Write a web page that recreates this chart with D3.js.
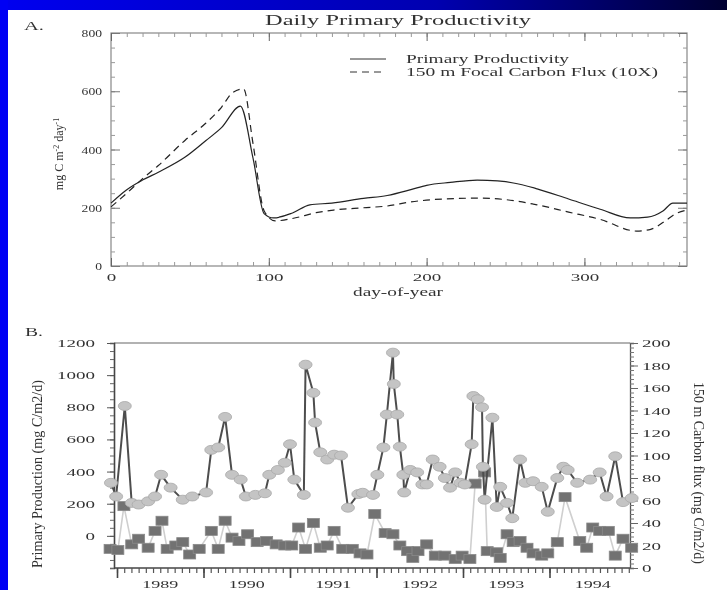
<!DOCTYPE html>
<html>
<head>
<meta charset="utf-8">
<script src="https://cdn.jsdelivr.net/npm/d3@7"></script>
<style>
  body { margin: 0; padding: 0; background: #fff; }
  svg { display: block; }
  text { font-family: "Liberation Serif", "DejaVu Serif", serif; fill: #333; }
</style>
</head>
<body>
<svg id="chart" width="727" height="590"></svg>
<script>
// ---- panel A : daily climatology (day-of-year) ----
var ppDays   = [0, 10, 20, 30, 47, 60, 70, 82, 90, 97, 103, 115, 126, 140, 160, 175, 190, 200, 215, 232, 245, 255, 270, 290, 310, 329, 340, 350, 356, 365];
var ppDaily  = [216, 262, 295, 322, 374, 430, 475, 549, 370, 180, 165, 182, 210, 216, 232, 242, 262, 277, 287, 295, 292, 285, 265, 230, 195, 165, 168, 190, 216, 216];
var fluxDays = [0, 10, 20, 30, 47, 60, 70, 77, 84, 90, 97, 104, 115, 130, 141, 160, 175, 190, 210, 232, 250, 270, 290, 310, 333, 342, 350, 358, 365];
var fluxDaily= [203, 250, 300, 345, 432, 490, 545, 595, 608, 420, 190, 155, 163, 183, 192, 200, 206, 220, 230, 233, 228, 210, 185, 160, 120, 126, 150, 180, 192];
var dayTicks = [0, 100, 200, 300];
var ppTicksA = [0, 200, 400, 600, 800];
var legendA  = ["Primary Productivity", "150 m Focal Carbon Flux (10X)"];

// ---- panel B : BATS time series ----
var ppYears = [1988.93, 1988.99, 1989.09, 1989.17, 1989.25, 1989.36, 1989.44, 1989.51, 1989.62, 1989.76,
  1989.87, 1990.03, 1990.09, 1990.17, 1990.25, 1990.33, 1990.43, 1990.49, 1990.60, 1990.71,
  1990.76, 1990.86, 1990.94, 1991.00, 1991.05, 1991.16, 1991.18, 1991.27, 1991.29, 1991.35,
  1991.43, 1991.51, 1991.59, 1991.67, 1991.79, 1991.84, 1991.96, 1992.01, 1992.08, 1992.12,
  1992.19, 1992.20, 1992.24, 1992.27, 1992.31, 1992.32, 1992.39, 1992.47, 1992.53, 1992.58,
  1992.65, 1992.73, 1992.79, 1992.85, 1992.91, 1992.97, 1993.02, 1993.10, 1993.12, 1993.17,
  1993.22, 1993.23, 1993.25, 1993.34, 1993.39, 1993.43, 1993.51, 1993.57, 1993.66, 1993.72,
  1993.81, 1993.91, 1993.98, 1994.09, 1994.16, 1994.21, 1994.32, 1994.47, 1994.58, 1994.66,
  1994.76, 1994.85, 1994.95];
var ppValues = [330, 245, 808, 205, 195, 215, 245, 380, 300, 225,
  245, 270, 535, 550, 740, 380, 350, 245, 255, 265,
  380, 410, 455, 570, 350, 255, 1065, 890, 705, 520,
  475, 505, 500, 175, 260, 268, 255, 380, 550, 755,
  1140, 945, 755, 555, 380, 270, 410, 395, 320, 320,
  475, 430, 360, 300, 395, 330, 320, 570, 870, 850,
  800, 430, 225, 735, 180, 305, 205, 110, 475, 330,
  340, 305, 150, 360, 430, 410, 330, 350, 395, 245,
  495, 210, 235];
var fluxYears = [1988.92, 1989.01, 1989.08, 1989.17, 1989.25, 1989.36, 1989.44, 1989.52, 1989.58, 1989.68,
  1989.76, 1989.84, 1989.95, 1990.09, 1990.17, 1990.25, 1990.33, 1990.41, 1990.51, 1990.62,
  1990.73, 1990.84, 1990.94, 1991.02, 1991.10, 1991.18, 1991.27, 1991.35, 1991.43, 1991.51,
  1991.61, 1991.72, 1991.81, 1991.89, 1991.98, 1992.10, 1992.19, 1992.27, 1992.36, 1992.42,
  1992.48, 1992.58, 1992.68, 1992.79, 1992.91, 1992.99, 1993.08, 1993.14, 1993.25, 1993.28,
  1993.39, 1993.43, 1993.51, 1993.58, 1993.66, 1993.74, 1993.81, 1993.91, 1993.98, 1994.09,
  1994.18, 1994.35, 1994.43, 1994.50, 1994.58, 1994.68, 1994.76, 1994.85, 1994.95];
var fluxValues = [17, 16, 55, 21, 26, 18, 33, 42, 17, 20,
  23, 12, 17, 33, 17, 42, 27, 24, 30, 23,
  24, 21, 20, 20, 36, 17, 40, 18, 20, 33,
  17, 17, 13, 12, 48, 31, 30, 20, 15, 9,
  15, 21, 11, 11, 8, 11, 8, 75, 85, 15,
  14, 9, 30, 23, 24, 18, 13, 11, 13, 23,
  63, 24, 18, 36, 33, 33, 11, 26, 18];
var yearLabels = [1989, 1990, 1991, 1992, 1993, 1994];
var ppTicksB   = [0, 200, 400, 600, 800, 1000, 1200];
var fluxTicksB = [0, 20, 40, 60, 80, 100, 120, 140, 160, 180, 200];

var svg = d3.select("#chart");

// slide background: blue strips
var defs = svg.append("defs");
var grad = defs.append("linearGradient").attr("id", "topbar");
grad.append("stop").attr("offset", "0%").attr("stop-color", "#0000f0");
grad.append("stop").attr("offset", "60%").attr("stop-color", "#0000b0");
grad.append("stop").attr("offset", "100%").attr("stop-color", "#000030");
defs.append("filter").attr("id", "soft")
    .append("feGaussianBlur").attr("stdDeviation", 0.45);

svg.append("rect").attr("x", 0).attr("y", 0).attr("width", 727).attr("height", 590).attr("fill", "#fff");
svg.append("rect").attr("x", 0).attr("y", 0).attr("width", 727).attr("height", 10).attr("fill", "url(#topbar)");
svg.append("rect").attr("x", 0).attr("y", 0).attr("width", 8).attr("height", 590).attr("fill", "#0000f4");

var g = svg.append("g").attr("filter", "url(#soft)");

function stretch(sel, perChar) {
    sel.attr("textLength", function() { return this.textContent.length * perChar; })
       .attr("lengthAdjust", "spacingAndGlyphs");
}

// =================== PANEL A ===================
var xA = d3.scaleLinear().domain([0, 365]).range([111, 687]);
var yA = d3.scaleLinear().domain([0, 800]).range([266, 33]);

var gA = g.append("g");
gA.append("rect").attr("x", xA(0)).attr("y", yA(800))
    .attr("width", xA(365) - xA(0)).attr("height", yA(0) - yA(800))
    .attr("fill", "none").attr("stroke", "#888").attr("stroke-width", 1.2);

function styleAxis(sel, col) {
    sel.select(".domain").remove();
    sel.selectAll("line").attr("stroke", col).attr("stroke-width", 1);
    sel.selectAll("text").style("font-family", "Liberation Serif, serif").attr("fill", "#333");
}

// minor ticks, inward on all four sides
gA.append("g").attr("transform", "translate(" + xA(0) + ",0)")
    .call(d3.axisLeft(yA).tickValues(d3.range(0, 801, 50)).tickSize(-4).tickFormat(""))
    .call(styleAxis, "#999");
gA.append("g").attr("transform", "translate(" + xA(365) + ",0)")
    .call(d3.axisRight(yA).tickValues(d3.range(0, 801, 50)).tickSize(-4).tickFormat(""))
    .call(styleAxis, "#999");
gA.append("g").attr("transform", "translate(0," + yA(0) + ")")
    .call(d3.axisBottom(xA).tickValues(d3.range(0, 361, 10)).tickSize(-4).tickFormat(""))
    .call(styleAxis, "#999");
gA.append("g").attr("transform", "translate(0," + yA(800) + ")")
    .call(d3.axisTop(xA).tickValues(d3.range(0, 361, 10)).tickSize(-4).tickFormat(""))
    .call(styleAxis, "#999");

// major ticks with labels
var axAL = gA.append("g").attr("transform", "translate(" + xA(0) + ",0)")
    .call(d3.axisLeft(yA).tickValues(ppTicksA).tickSize(-9).tickPadding(9).tickFormat(d3.format("d")))
    .call(styleAxis, "#777");
axAL.selectAll("text").attr("font-size", 11).call(stretch, 6.8);
gA.append("g").attr("transform", "translate(" + xA(365) + ",0)")
    .call(d3.axisRight(yA).tickValues(ppTicksA).tickSize(-9).tickFormat(""))
    .call(styleAxis, "#777");
var axAB = gA.append("g").attr("transform", "translate(0," + yA(0) + ")")
    .call(d3.axisBottom(xA).tickValues(dayTicks).tickSize(-8).tickPadding(7).tickFormat(d3.format("d")))
    .call(styleAxis, "#666");
axAB.selectAll("text").attr("font-size", 11).call(stretch, 9.5);
gA.append("g").attr("transform", "translate(0," + yA(800) + ")")
    .call(d3.axisTop(xA).tickValues(dayTicks).tickSize(-8).tickFormat(""))
    .call(styleAxis, "#666");

var lineA = d3.line().curve(d3.curveMonotoneX);
gA.append("path")
    .attr("d", lineA(ppDays.map(function(d, i) { return [xA(d), yA(ppDaily[i])]; })))
    .attr("fill", "none").attr("stroke", "#222").attr("stroke-width", 1.2);
gA.append("path")
    .attr("d", lineA(fluxDays.map(function(d, i) { return [xA(d), yA(fluxDaily[i])]; })))
    .attr("fill", "none").attr("stroke", "#222").attr("stroke-width", 1.2)
    .attr("stroke-dasharray", "7,5");

// legend
legendA.forEach(function(t, i) {
    var ly = 59 + i * 13;
    gA.append("line").attr("x1", 350).attr("x2", 386).attr("y1", ly).attr("y2", ly)
        .attr("stroke", "#333").attr("stroke-width", 1)
        .attr("stroke-dasharray", i == 1 ? "7,5" : null);
    gA.append("text").attr("x", 406).attr("y", ly + 4).attr("font-size", 12.5)
        .attr("textLength", i == 0 ? 163 : 252).attr("lengthAdjust", "spacingAndGlyphs")
        .text(t);
});

gA.append("text").attr("x", 398).attr("y", 25).attr("text-anchor", "middle")
    .attr("font-size", 15).attr("textLength", 266).attr("lengthAdjust", "spacingAndGlyphs")
    .text("Daily Primary Productivity");
gA.append("text").attr("x", 24).attr("y", 30).attr("font-size", 13)
    .attr("textLength", 20).attr("lengthAdjust", "spacingAndGlyphs").text("A.");
gA.append("text").attr("x", 398).attr("y", 296).attr("text-anchor", "middle")
    .attr("font-size", 11.5).attr("textLength", 90).attr("lengthAdjust", "spacingAndGlyphs")
    .text("day-of-year");
var yt = gA.append("text").attr("transform", "translate(63,154) rotate(-90)")
    .attr("text-anchor", "middle").attr("font-size", 12);
yt.append("tspan").text("mg C m");
yt.append("tspan").attr("dy", -4).attr("font-size", 8).text("-2");
yt.append("tspan").attr("dy", 4).text(" day");
yt.append("tspan").attr("dy", -4).attr("font-size", 8).text("-1");

// =================== PANEL B ===================
var xB  = d3.scaleLinear().domain([1989, 1995]).range([117, 636]);
var yL  = d3.scaleLinear().domain([-200, 1200]).range([568, 343]);
var yR  = d3.scaleLinear().domain([0, 200]).range([568, 343]);
var x0 = 114, x1 = 630;

var gB = g.append("g");
gB.append("line").attr("x1", x0).attr("x2", x1).attr("y1", yL(1200)).attr("y2", yL(1200))
    .attr("stroke", "#999").attr("stroke-width", 1.5);

// left axis
var axL = gB.append("g").attr("transform", "translate(" + x0 + ",0)")
    .call(d3.axisLeft(yL).tickValues(d3.range(-200, 1201, 50)).tickSize(4).tickFormat(""));
axL.select(".domain").attr("stroke", "#444").attr("stroke-width", 1.6);
axL.selectAll("line").attr("stroke", "#666");
var axL2 = gB.append("g").attr("transform", "translate(" + x0 + ",0)")
    .call(d3.axisLeft(yL).tickValues(ppTicksB).tickSize(7).tickPadding(12).tickFormat(d3.format("d")))
    .call(styleAxis, "#555");
axL2.selectAll("text").attr("font-size", 11).call(stretch, 9.5);

// right axis
var axR = gB.append("g").attr("transform", "translate(" + x1 + ",0)")
    .call(d3.axisRight(yR).tickValues(d3.range(0, 201, 4)).tickSize(4).tickFormat(""));
axR.select(".domain").attr("stroke", "#555").attr("stroke-width", 1.3);
axR.selectAll("line").attr("stroke", "#777");
var axR2 = gB.append("g").attr("transform", "translate(" + x1 + ",0)")
    .call(d3.axisRight(yR).tickValues(fluxTicksB).tickSize(8).tickPadding(4).tickFormat(d3.format("d")))
    .call(styleAxis, "#666");
axR2.selectAll("text").attr("font-size", 11).call(stretch, 9.5);

// bottom axis, monthly ticks + year ticks
var months = [];
for (var yy = 1989; yy < 1995; yy++) for (var m = 0; m < 12; m++) months.push(yy + m / 12);
months = months.filter(function(d) { return xB(d) >= x0 && xB(d) <= x1; });
var axX = gB.append("g").attr("transform", "translate(0," + yL(-200) + ")")
    .call(d3.axisBottom(xB).tickValues(months).tickSize(5).tickFormat(""));
axX.select(".domain").attr("d", "M" + x0 + ",0H" + x1).attr("stroke", "#444").attr("stroke-width", 1.6);
axX.selectAll("line").attr("stroke", "#555").attr("stroke-width", 1.2);
var yearStarts = yearLabels.filter(function(d) { return xB(d) >= x0; });
gB.append("g").attr("transform", "translate(0," + yL(-200) + ")")
    .call(d3.axisBottom(xB).tickValues(yearStarts).tickSize(10).tickFormat(""))
    .call(styleAxis, "#444")
    .selectAll("line").attr("stroke-width", 1.6);
gB.append("g").selectAll("text").data(yearLabels).enter().append("text")
    .attr("x", function(d) { return xB(d + 0.5); }).attr("y", 588)
    .attr("text-anchor", "middle").attr("font-size", 11)
    .attr("textLength", 36).attr("lengthAdjust", "spacingAndGlyphs")
    .text(function(d) { return d; });

// flux series (right axis): light line, dark squares
var fluxPts = fluxYears.map(function(d, i) { return [xB(d), yR(fluxValues[i])]; });
gB.append("path").attr("d", d3.line()(fluxPts))
    .attr("fill", "none").attr("stroke", "#cfcfcf").attr("stroke-width", 1.6);
gB.append("g").selectAll("rect").data(fluxPts).enter().append("rect")
    .attr("x", function(d) { return d[0] - 6; }).attr("y", function(d) { return d[1] - 4.5; })
    .attr("width", 12).attr("height", 9)
    .attr("fill", "#727272").attr("stroke", "#8a8a8a").attr("stroke-width", 0.8);

// primary production series (left axis): dark line, light ellipses
var ppPts = ppYears.map(function(d, i) { return [xB(d), yL(ppValues[i])]; });
gB.append("path").attr("d", d3.line()(ppPts))
    .attr("fill", "none").attr("stroke", "#4d4d4d").attr("stroke-width", 2);
gB.append("g").selectAll("ellipse").data(ppPts).enter().append("ellipse")
    .attr("cx", function(d) { return d[0]; }).attr("cy", function(d) { return d[1]; })
    .attr("rx", 6.5).attr("ry", 4.5)
    .attr("fill", "#c4c4c4").attr("stroke", "#a8a8a8").attr("stroke-width", 0.8);

gB.append("text").attr("x", 25).attr("y", 336).attr("font-size", 13)
    .attr("textLength", 18).attr("lengthAdjust", "spacingAndGlyphs").text("B.");
gB.append("text").attr("transform", "translate(42,474) rotate(-90)")
    .attr("text-anchor", "middle").attr("font-size", 14)
    .attr("textLength", 188).attr("lengthAdjust", "spacingAndGlyphs")
    .text("Primary Production (mg C/m2/d)");
gB.append("text").attr("transform", "translate(694,473) rotate(90)")
    .attr("text-anchor", "middle").attr("font-size", 14)
    .attr("textLength", 182).attr("lengthAdjust", "spacingAndGlyphs")
    .text("150 m Carbon flux (mg C/m2/d)");
</script>
</body>
</html>
